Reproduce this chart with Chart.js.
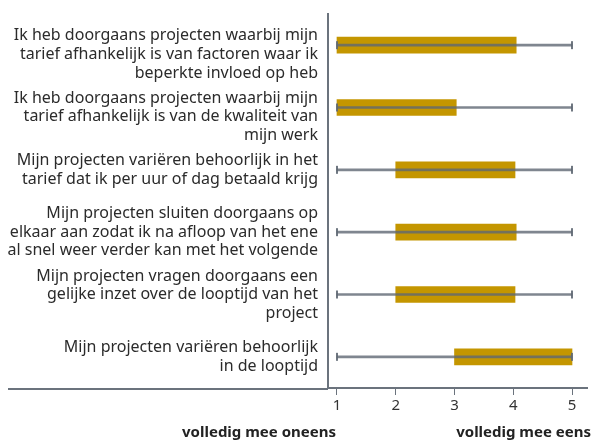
<!DOCTYPE html>
<html>
<head>
<meta charset="utf-8">
<script src="https://cdn.jsdelivr.net/npm/chart.js@4"></script>
<style>
  html, body { margin: 0; padding: 0; background: #fff; }
  #wrap { width: 595px; height: 441px; }
</style>
</head>
<body>
<div id="wrap"><canvas id="boxes"></canvas></div>
<script>
// statements (first two have an empty lead line so they sit lower, like the original)
const statements = [
  ['', 'Ik heb doorgaans projecten waarbij mijn', 'tarief afhankelijk is van factoren waar ik', 'beperkte invloed op heb'],
  ['', 'Ik heb doorgaans projecten waarbij mijn', 'tarief afhankelijk is van de kwaliteit van', 'mijn werk'],
  ['Mijn projecten variëren behoorlijk in het', 'tarief dat ik per uur of dag betaald krijg'],
  ['Mijn projecten sluiten doorgaans op', 'elkaar aan zodat ik na afloop van het ene', 'al snel weer verder kan met het volgende'],
  ['Mijn projecten vragen doorgaans een', 'gelijke inzet over de looptijd van het', 'project'],
  ['Mijn projecten variëren behoorlijk', 'in de looptijd']
];
const minVals = [1, 1, 1, 1, 1, 1];
const q1Vals  = [1, 1, 2, 2, 2, 3];
const q3Vals  = [4.05, 3.03, 4.03, 4.05, 4.03, 5];
const maxVals = [5, 5, 5, 5, 5, 5];
const xTicks = [1, 2, 3, 4, 5];
const leftLabel = 'volledig mee oneens';
const rightLabel = 'volledig mee eens';

const axisGrey = '#6b737d';
const font = "'Noto Sans', sans-serif";

// extra drawing: axis line running under the labels + the two end captions
const extras = {
  id: 'extras',
  afterDraw(chart) {
    const { ctx, chartArea, scales } = chart;
    ctx.save();
    ctx.strokeStyle = axisGrey;
    ctx.lineWidth = 2;
    ctx.beginPath();
    ctx.moveTo(8, chartArea.bottom + 1);
    ctx.lineTo(chartArea.left, chartArea.bottom + 1);
    ctx.stroke();

    ctx.fillStyle = '#222';
    ctx.font = "bold 15px " + font;
    ctx.textBaseline = 'middle';
    ctx.textAlign = 'right';
    ctx.fillText(leftLabel, scales.x.getPixelForValue(1) - 1, 433);
    ctx.fillText(rightLabel, 591, 433);
    ctx.restore();
  }
};

new Chart(document.getElementById('boxes'), {
  type: 'bar',
  data: {
    labels: statements,
    datasets: [
      {
        // whisker line, drawn on top of the box
        data: minVals.map((v, i) => [v, maxVals[i]]),
        backgroundColor: 'rgba(95,104,115,0.8)',
        barThickness: 2,
        grouped: false,
        order: 0
      },
      {
        type: 'line',
        data: minVals,
        showLine: false,
        pointStyle: 'line',
        rotation: 90,
        pointRadius: 4,
        borderWidth: 2,
        borderColor: 'rgba(95,104,115,0.9)',
        order: 0
      },
      {
        type: 'line',
        data: maxVals,
        showLine: false,
        pointStyle: 'line',
        rotation: 90,
        pointRadius: 4,
        borderWidth: 2,
        borderColor: 'rgba(95,104,115,0.9)',
        order: 0
      },
      {
        data: q1Vals.map((v, i) => [v, q3Vals[i]]),
        backgroundColor: '#c49600',
        barThickness: 16,
        grouped: false,
        order: 1
      }
    ]
  },
  options: {
    indexAxis: 'y',
    responsive: true,
    maintainAspectRatio: false,
    animation: false,
    layout: { padding: { top: 14, right: 8, bottom: 24, left: 0 } },
    plugins: { legend: { display: false }, tooltip: { enabled: false } },
    scales: {
      x: {
        min: 0.847,
        max: 5.255,
        afterBuildTicks: s => { s.ticks = xTicks.map(v => ({ value: v })); },
        afterFit: s => { s.paddingLeft = 0; s.paddingRight = 0; },
        grid: { drawOnChartArea: false, drawTicks: true, tickLength: 7, color: axisGrey, lineWidth: 1 },
        border: { display: true, color: axisGrey, width: 2 },
        ticks: { color: '#333', font: { family: font, size: 15 }, padding: 2 }
      },
      y: {
        afterFit: s => { s.width = 328; s.paddingTop = 0; s.paddingBottom = 0; },
        grid: { display: false },
        border: { display: true, color: axisGrey, width: 2 },
        ticks: { autoSkip: false, color: '#2b2b2b', font: { family: font, size: 16, lineHeight: 1.16 }, padding: 2 }
      }
    }
  },
  plugins: [extras]
});
</script>
</body>
</html>
